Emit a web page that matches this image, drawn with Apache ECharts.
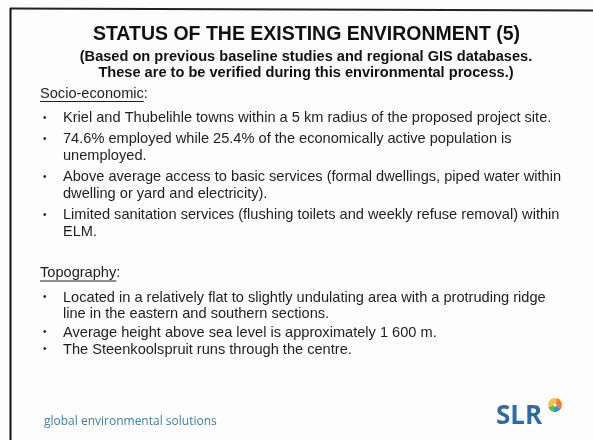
<!DOCTYPE html>
<html>
<head>
<meta charset="utf-8">
<script src="https://cdn.jsdelivr.net/npm/echarts@6/dist/echarts.min.js"></script>
<style>
  html, body { margin: 0; padding: 0; background: #fdfdfd; }
  #chart { width: 593px; height: 440px; }
</style>
</head>
<body>
<div id="chart"></div>
<script>
// slide text
const title = 'STATUS OF THE EXISTING ENVIRONMENT (5)';
const subtitle = [
  '(Based on previous baseline studies and regional GIS databases.',
  'These are to be verified during this environmental process.)'
];
const socioHeading = 'Socio-economic';
const socioBullets = [
  ['Kriel and Thubelihle towns within a 5 km radius of the proposed project site.'],
  ['74.6% employed while 25.4% of the economically active population is', 'unemployed.'],
  ['Above average access to basic services (formal dwellings, piped water within', 'dwelling or yard and electricity).'],
  ['Limited sanitation services (flushing toilets and weekly refuse removal) within', 'ELM.']
];
const topoHeading = 'Topography';
const topoBullets = [
  ['Located in a relatively flat to slightly undulating area with a protruding ridge', 'line in the eastern and southern sections.'],
  ['Average height above sea level is approximately 1 600 m.'],
  ['The Steenkoolspruit runs through the centre.']
];
const footer = 'global environmental solutions';
const brand = 'SLR';

const font = '"Liberation Sans", Arial, sans-serif';
const bodySize = 14.6;
const textColor = '#1e1e1e';

const measure = (txt, f) => {
  const c = document.createElement('canvas').getContext('2d');
  c.font = f;
  return c.measureText(txt).width;
};

const chart = echarts.init(document.getElementById('chart'));
const els = [];

// frame lines
els.push({ type: 'line', shape: { x1: 10, y1: 8.5, x2: 593, y2: 10.5 }, style: { stroke: '#222', lineWidth: 2 } });
els.push({ type: 'line', shape: { x1: 10.5, y1: 8, x2: 10.5, y2: 440 }, style: { stroke: '#111', lineWidth: 2 } });

// title block
els.push({ type: 'text', x: 306.5, y: 34.5, style: { text: title, font: 'bold 19.5px ' + font, fill: '#111', align: 'center', verticalAlign: 'middle' } });
subtitle.forEach((s, i) => {
  els.push({ type: 'text', x: 306, y: 57 + i * 16, style: { text: s, font: 'bold 14.6px ' + font, fill: '#111', align: 'center', verticalAlign: 'middle' } });
});

const heading = (txt, y) => {
  const f = bodySize + 'px ' + font;
  const w = measure(txt, f);
  els.push({ type: 'text', x: 40, y: y, style: { text: txt + ':', font: f, fill: textColor, verticalAlign: 'middle' } });
  els.push({ type: 'line', shape: { x1: 40, y1: y + 8, x2: 40 + w, y2: y + 8 }, style: { stroke: textColor, lineWidth: 1 } });
};

const bullets = (list, starts) => {
  list.forEach((lines, i) => {
    const y0 = starts[i];
    els.push({ type: 'text', x: 43, y: y0, style: { text: '•', font: '10px ' + font, fill: textColor, verticalAlign: 'middle' } });
    lines.forEach((l, j) => {
      els.push({ type: 'text', x: 63, y: y0 + j * 16.5, style: { text: l, font: bodySize + 'px ' + font, fill: textColor, verticalAlign: 'middle' } });
    });
  });
};

heading(socioHeading, 93.5);
bullets(socioBullets, [118, 139, 177, 215]);
heading(topoHeading, 273);
bullets(topoBullets, [297.5, 332.5, 349.5]);

// footer
els.push({ type: 'text', x: 44, y: 422, style: { text: footer, font: '12px "Open Sans", sans-serif', fill: '#3f7fa6', verticalAlign: 'middle' } });
els.push({ type: 'text', x: 496, y: 417, style: { text: brand, font: 'bold 26px "Open Sans", sans-serif', fill: '#2e6aa3', verticalAlign: 'middle' } });
// little logo mark
const lc = [555, 405];
els.push({ type: 'sector', shape: { cx: lc[0], cy: lc[1], r: 7, r0: 1.5, startAngle: Math.PI * 0.9, endAngle: Math.PI * 1.6 }, style: { fill: '#f5c242' } });
els.push({ type: 'sector', shape: { cx: lc[0], cy: lc[1], r: 7, r0: 1.5, startAngle: Math.PI * 1.6, endAngle: Math.PI * 2.2 }, style: { fill: '#ef7d3c' } });
els.push({ type: 'sector', shape: { cx: lc[0], cy: lc[1], r: 7, r0: 1.5, startAngle: Math.PI * 0.2, endAngle: Math.PI * 0.6 }, style: { fill: '#3a8fd1' } });
els.push({ type: 'sector', shape: { cx: lc[0], cy: lc[1], r: 7, r0: 1.5, startAngle: Math.PI * 0.6, endAngle: Math.PI * 0.9 }, style: { fill: '#5bb84a' } });

chart.setOption({
  backgroundColor: '#fdfdfd',
  graphic: { elements: els }
});
</script>
</body>
</html>
